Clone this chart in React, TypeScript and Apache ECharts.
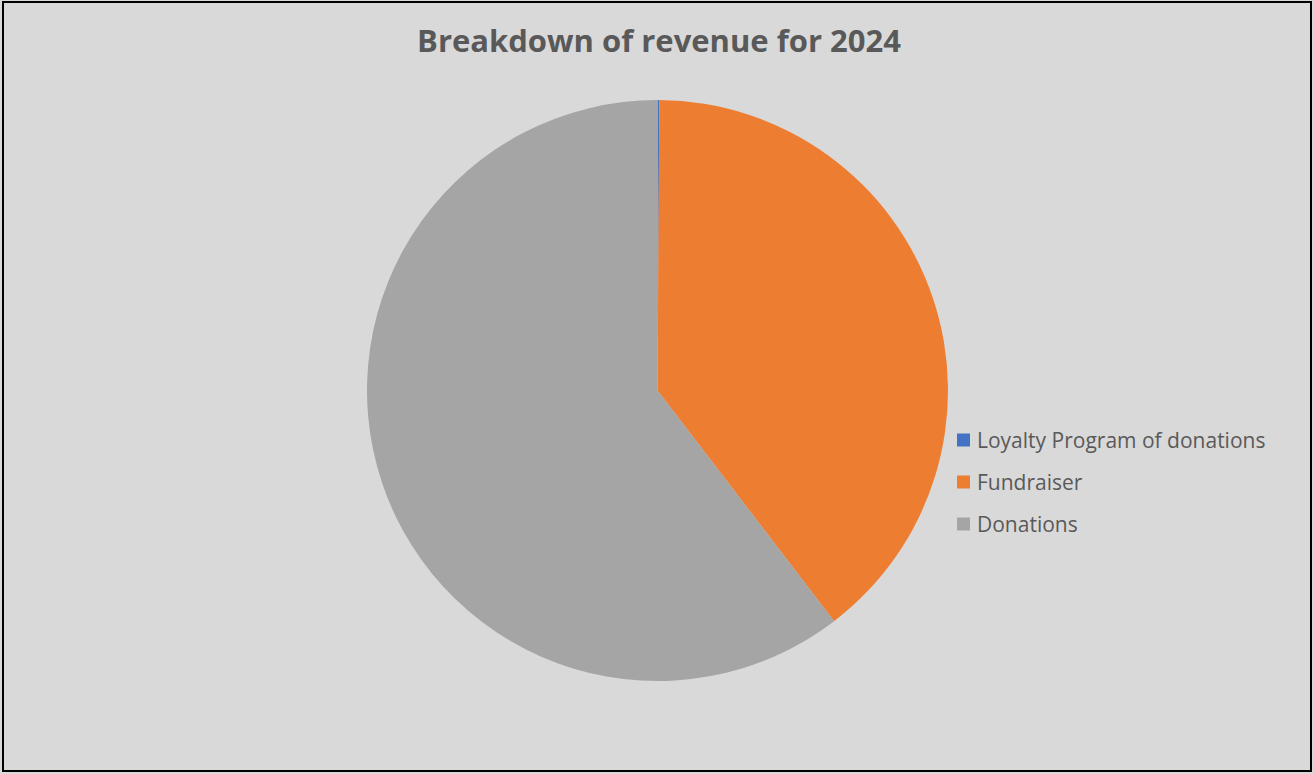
import React, { useEffect, useRef } from "react";
import * as echarts from "echarts";

const categories = ["Loyalty Program of donations", "Fundraiser", "Donations"];
const values = [0.1, 39.5, 60.4];
const colors = ["#4472C4", "#ED7D31", "#A5A5A5"];
const titleText = "Breakdown of revenue for 2024";

export default function App() {
  const ref = useRef<HTMLDivElement>(null);
  useEffect(() => {
    if (!ref.current) return;
    const chart = echarts.init(ref.current, undefined, { renderer: "svg" });
    chart.setOption({
      animation: false,
      backgroundColor: "#D9D9D9",
      title: {
        text: titleText,
        left: 659,
        textAlign: "center",
        top: 24,
        padding: 0,
        textStyle: {
          fontFamily: "Open Sans",
          fontWeight: "bold",
          fontSize: 31,
          color: "#595959",
        },
      },
      legend: {
        orient: "vertical",
        left: 957,
        top: 429,
        padding: 0,
        itemWidth: 13,
        itemHeight: 13,
        itemGap: 20,
        icon: "rect",
        data: categories,
        textStyle: {
          fontFamily: "Open Sans",
          fontSize: 21,
          lineHeight: 22,
          color: "#595959",
          padding: [0, 0, 0, 2],
        },
      },
      graphic: [
        {
          type: "rect",
          shape: { x: 3, y: 2, width: 1308, height: 769 },
          style: { fill: "none", stroke: "#000000", lineWidth: 2 },
          silent: true,
        },
      ],
      series: [
        {
          type: "pie",
          center: [657.5, 390.5],
          radius: 290.5,
          startAngle: 90,
          clockwise: true,
          minAngle: 0,
          label: { show: false },
          labelLine: { show: false },
          itemStyle: { borderWidth: 0 },
          emphasis: { disabled: true },
          data: categories.map((name, i) => ({
            name,
            value: values[i],
            itemStyle: { color: colors[i] },
          })),
        },
      ],
    });
    return () => chart.dispose();
  }, []);
  return (
    <div
      ref={ref}
      style={{ position: "fixed", left: 0, top: 0, width: 1313, height: 774 }}
    />
  );
}
